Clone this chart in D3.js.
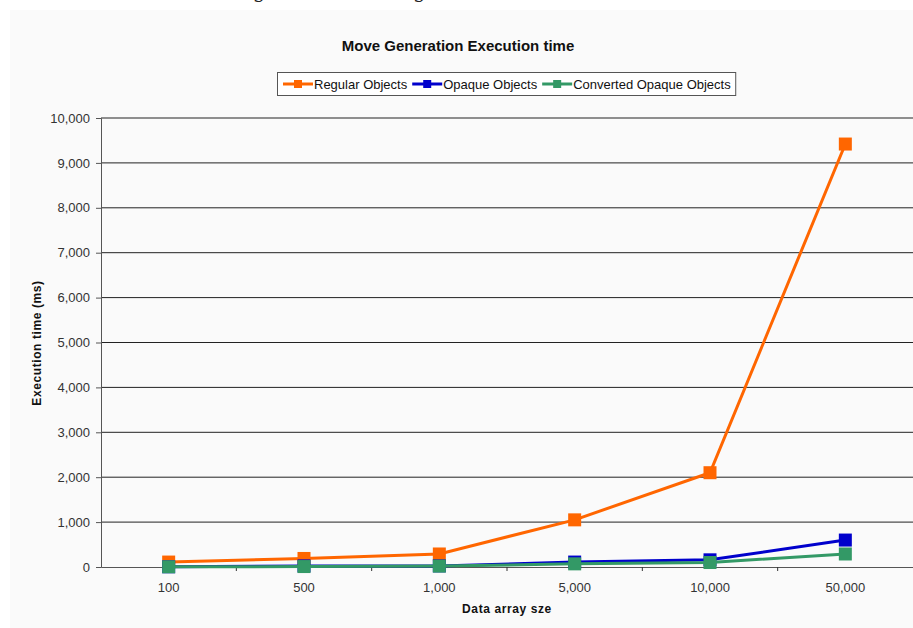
<!DOCTYPE html>
<html>
<head>
	<meta charset="utf-8">
	<title>Move Generation Execution time</title>
	<script type="text/javascript" src="https://d3js.org/d3.v7.min.js"></script>
	<style>
		body { margin: 0; background: #fff; }
		text { font-family: Arial, "Liberation Sans", sans-serif; }
	</style>
</head>
<body>
	<div id="chart"></div>
	<script>
	var categories = ["100", "500", "1,000", "5,000", "10,000", "50,000"];
	var regular = [110, 190, 290, 1050, 2100, 9420];
	var opaque = [5, 25, 25, 110, 160, 600];
	var converted = [5, 10, 20, 70, 100, 290];
	var yTicks = [0, 1000, 2000, 3000, 4000, 5000, 6000, 7000, 8000, 9000, 10000];

	var seriesNames = ["Regular Objects", "Opaque Objects", "Converted Opaque Objects"];
	var seriesColors = ["#ff6600", "#0000cc", "#339966"];
	var series = [regular, opaque, converted];

	var width = 913;
	var height = 628;

	var svg = d3.select("#chart")
				.append("svg")
					.attr("width", width)
					.attr("height", height);

	// caption of the page above, mostly cut off (only descenders show)
	svg.append("text")
		.attr("x", 456)
		.attr("y", -2)
		.attr("text-anchor", "middle")
		.style("font-family", "'DejaVu Serif', serif")
		.style("font-size", "20px")
		.attr("fill", "#222")
		.text("Figure 6.7: Move generation execution time");

	// chart area background
	svg.append("rect")
		.attr("x", 10).attr("y", 10)
		.attr("width", width - 10).attr("height", height - 10)
		.attr("fill", "#fafafa");

	var x = d3.scaleBand()
			.domain(categories)
			.range([101, 913]);

	var y = d3.scaleLinear()
			.domain([0, 10000])
			.range([567, 118]);

	// gridlines
	svg.append("g")
		.selectAll("line")
		.data(yTicks.slice(1))
		.enter()
		.append("line")
		.attr("x1", 101).attr("x2", 913)
		.attr("y1", function(d){ return y(d); })
		.attr("y2", function(d){ return y(d); })
		.attr("stroke", "#222")
		.attr("stroke-width", 1);

	// y axis
	var yAxis = svg.append("g")
		.attr("transform", "translate(101,0)")
		.call(d3.axisLeft(y).tickValues(yTicks).tickSize(5).tickFormat(d3.format(",")));
	yAxis.select(".domain").attr("stroke", "#555");
	yAxis.selectAll(".tick line").attr("stroke", "#555");
	yAxis.selectAll("text")
		.attr("x", -11)
		.style("font-size", "13px")
		.attr("fill", "#333");

	// x axis
	var xAxis = svg.append("g")
		.attr("transform", "translate(0,567)")
		.call(d3.axisBottom(x).tickSize(0));
	xAxis.select(".domain").attr("stroke", "#555");
	xAxis.selectAll("text")
		.attr("dy", "0")
		.attr("y", 25)
		.style("font-size", "13px")
		.attr("fill", "#333");
	xAxis.selectAll(".sep")
		.data(categories.slice(0, -1))
		.enter()
		.append("line")
		.attr("x1", function(d){ return x(d) + x.bandwidth(); })
		.attr("x2", function(d){ return x(d) + x.bandwidth(); })
		.attr("y1", 0).attr("y2", 4)
		.attr("stroke", "#333");

	// lines + markers
	var line = d3.line()
			.x(function(d, i){ return x(categories[i]) + x.bandwidth() / 2; })
			.y(function(d){ return y(d); });

	series.forEach(function(s, k){
		svg.append("path")
			.datum(s)
			.attr("d", line)
			.attr("fill", "none")
			.attr("stroke", seriesColors[k])
			.attr("stroke-width", 3);
		svg.append("g")
			.selectAll("rect")
			.data(s)
			.enter()
			.append("rect")
			.attr("x", function(d, i){ return x(categories[i]) + x.bandwidth() / 2 - 6.5; })
			.attr("y", function(d){ return y(d) - 6.5; })
			.attr("width", 13).attr("height", 13)
			.attr("fill", seriesColors[k]);
	});

	// title
	svg.append("text")
		.attr("x", 458).attr("y", 51)
		.attr("text-anchor", "middle")
		.style("font-size", "15px")
		.style("font-weight", "bold")
		.attr("fill", "#111")
		.text("Move Generation Execution time");

	// axis titles
	svg.append("text")
		.attr("transform", "translate(41,343) rotate(-90)")
		.attr("text-anchor", "middle")
		.style("font-size", "12px")
		.style("font-weight", "bold")
		.style("letter-spacing", "0.6px")
		.attr("fill", "#111")
		.text("Execution time (ms)");

	svg.append("text")
		.attr("x", 507).attr("y", 613)
		.attr("text-anchor", "middle")
		.style("font-size", "12px")
		.style("font-weight", "bold")
		.style("letter-spacing", "0.6px")
		.attr("fill", "#111")
		.text("Data array sze");

	// legend
	var legend = svg.append("g");
	var box = legend.append("rect")
		.attr("x", 277.5).attr("y", 72.5)
		.attr("height", 23)
		.attr("fill", "#fff")
		.attr("stroke", "#555");
	var lx = 283;
	seriesNames.forEach(function(name, k){
		var g = legend.append("g").attr("transform", "translate(" + lx + ",84)");
		g.append("line")
			.attr("x1", 0).attr("x2", 30)
			.attr("stroke", seriesColors[k]).attr("stroke-width", 3);
		g.append("rect")
			.attr("x", 11).attr("y", -4)
			.attr("width", 8).attr("height", 8)
			.attr("fill", seriesColors[k]);
		var t = g.append("text")
			.attr("x", 31).attr("y", 5)
			.style("font-size", "13px")
			.attr("fill", "#111")
			.text(name);
		lx += 31 + t.node().getComputedTextLength() + 5;
	});
	box.attr("width", lx - 277.5);
	</script>
</body>
</html>
